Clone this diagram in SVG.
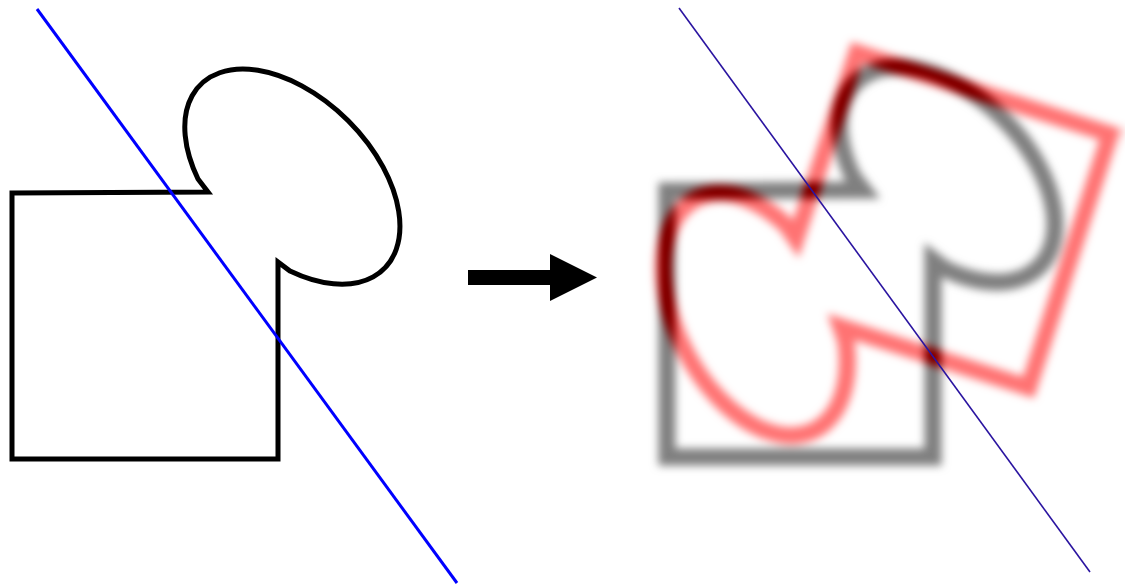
<svg xmlns="http://www.w3.org/2000/svg" xmlns:xlink="http://www.w3.org/1999/xlink" width="1125" height="587" viewBox="0 0 1125 587">
  <style>
    .outline { fill: none; stroke-linejoin: miter; }
    .thick { stroke-width: 17; }
  </style>
  <defs>
    <path id="shape" d="M 12 193 L 208 192 L 198 179 A 130 79 45 1 1 290 271 L 278 262 L 278 459 L 12 459 Z"/>
    <filter id="blurmix" filterUnits="userSpaceOnUse" x="620" y="0" width="505" height="587" color-interpolation-filters="sRGB">
      <feGaussianBlur stdDeviation="4"/>
      <feColorMatrix type="matrix" values="-0.5 0 0 0 1  -0.5 -0.55 0 0 1  -0.5 -0.55 0 0 1  0 0 0 0 1"/>
    </filter>
  </defs>
  <rect width="1125" height="587" fill="#fff"/>

  <g id="original">
    <use href="#shape" class="outline" stroke="#000" stroke-width="5"/>
    <line x1="37" y1="9" x2="457" y2="583" stroke="#0000ff" stroke-width="3"/>
  </g>

  <g id="arrow">
    <polygon points="468,270 550,270 550,254 597,277.5 550,301 550,285 468,285" fill="#000"/>
  </g>

  <g id="reflected">
    <g filter="url(#blurmix)">
      <rect x="620" y="0" width="505" height="587" fill="#000"/>
      <g transform="translate(655,-2)">
        <use href="#shape" class="outline thick" stroke="#ff0000"/>
      </g>
      <g transform="matrix(-0.3064 0.9519 0.9519 0.3064 879.43 -640.79)" style="mix-blend-mode:lighten">
        <g transform="translate(655,-2)">
          <use href="#shape" class="outline thick" stroke="#00ff00"/>
        </g>
      </g>
    </g>
    <line x1="679" y1="8" x2="1090" y2="572" stroke="#2a14a0" stroke-width="1.6"/>
  </g>
</svg>
